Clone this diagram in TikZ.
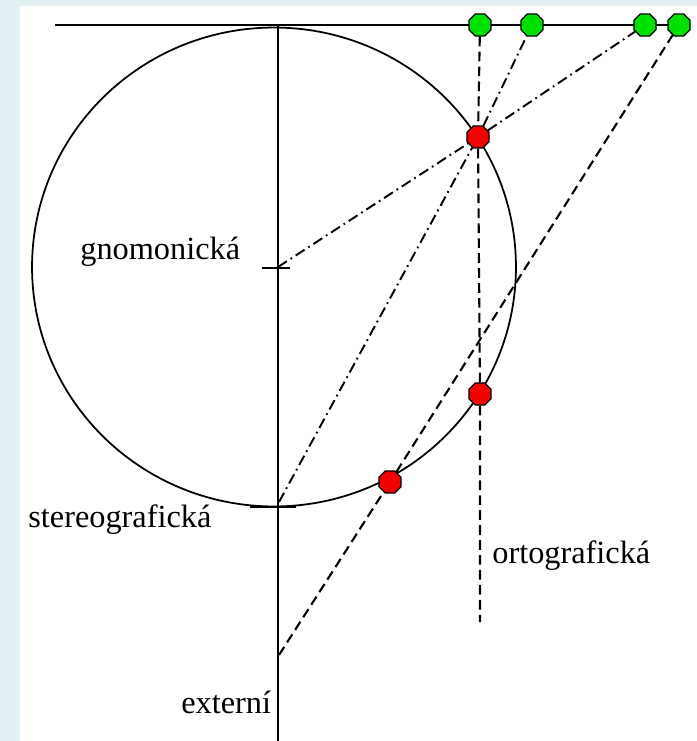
\documentclass[tikz,border=0pt]{standalone}
\usepackage{fontspec}
\setmainfont{Liberation Serif}
\usetikzlibrary{shapes.geometric}
\definecolor{frame}{HTML}{E4F1F4}
\definecolor{ptgreen}{HTML}{00E000}
\definecolor{ptred}{HTML}{F00000}

\begin{document}
\begin{tikzpicture}[x=0.02cm, y=-0.02cm,
    pt/.style = {regular polygon, regular polygon sides=8, draw, line width=0.7pt, inner sep=0pt, minimum size=0.48cm},
    lbl/.style = {font=\fontsize{18.4}{22}\selectfont, inner sep=0pt, anchor=base west},
    dsh/.style = {line width=1.2pt, dash pattern=on 5.5pt off 3pt},
    dsd/.style = {line width=1.1pt, dash pattern=on 6pt off 2.5pt on 1pt off 2.5pt}]
    \fill[frame] (0,0) rectangle (697,741); \fill[white] (20,6) rectangle (697,741);
    \useasboundingbox (0,0) rectangle (697,741);
    % frame of the construction
    \coordinate (O) at (278,267); \coordinate (C) at (274,267); \coordinate (S) at (279,502); \coordinate (E) at (279,655); \coordinate (F) at (480,622);
    \draw[line width=1pt] (C) ellipse[x radius=4.84cm, y radius=4.79cm];
    \draw[line width=1.3pt] (55,25) -- (690,25); \draw[line width=1.3pt] (278,25) -- (278,741);
    \draw[line width=1.2pt] (262,268) -- (290,268); \draw[line width=1.3pt] (250,507) -- (296,507);
    % projection points
    \node[pt, fill=ptgreen] (G1) at (480,25) {}; \node[pt, fill=ptgreen] (G2) at (532,25) {};
    \node[pt, fill=ptgreen] (G3) at (645,25) {}; \node[pt, fill=ptgreen] (G4) at (679,25) {};
    \node[pt, fill=ptred] (R1) at (478,137) {}; \node[pt, fill=ptred] (R2) at (480,394) {}; \node[pt, fill=ptred] (R3) at (390,482) {};
    % rays
    \draw[dsh] (G1) -- (R1) -- (R2) -- (F);
    \draw[dsd] (O) -- (R1) -- (G3);
    \draw[dsd] (S) -- (R1) -- (G2);
    \draw[dsh] (E) -- (R3) -- (G4);
    % labels
    \node[lbl] (lgno) at (80,259) {gnomonická};
    \node[lbl] (lste) at (28,527) {stereografická};
    \node[lbl] (lort) at (492,563) {ortografická};
    \node[lbl] (lext) at (181,713) {externí};
\end{tikzpicture}
\end{document}
